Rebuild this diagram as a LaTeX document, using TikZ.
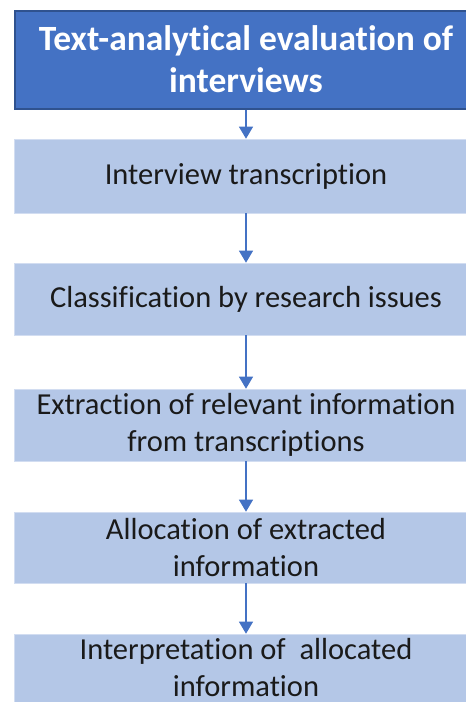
\documentclass[tikz,border=0pt]{standalone}
\usepackage{fontspec}
\setmainfont[Ligatures=NoCommon]{Carlito}
\usetikzlibrary{arrows.meta}
\definecolor{headblue}{HTML}{4472C4}
\definecolor{headedge}{HTML}{2F528F}
\definecolor{stepfill}{HTML}{B4C7E7}
\definecolor{steptext}{HTML}{1A1A1A}
\begin{document}
\begin{tikzpicture}[x=1pt,y=-1pt,
  headbox/.style={draw=headedge,line width=2pt,fill=headblue,text=white,
    font=\fontsize{35.5}{42}\selectfont\bfseries,align=center,
    minimum width=462pt,inner sep=0pt},
  stepbox/.style={fill=stepfill,draw=stepfill!60!white,line width=0.6pt,text=steptext,
    font=\fontsize{30.5}{37}\selectfont,align=center,
    minimum width=464pt,inner sep=0pt},
  flow/.style={draw=headblue,line width=1.3pt,
    -{Triangle[width=14pt,length=12pt]}}]
\useasboundingbox (0,0) rectangle (466,702);
\clip (0,0) rectangle (466,702);
\node[headbox,minimum height=98pt] (head) at (246,59.5) {Text-analytical evaluation of\\interviews};
\node[stepbox,minimum height=74pt] (s1) at (246,176) {Interview transcription};
\node[stepbox,minimum height=72pt] (s2) at (246,299) {Classification by research issues};
\node[stepbox,minimum height=72pt] (s3) at (246,425) {Extraction of relevant information\\from transcriptions};
\node[stepbox,minimum height=71pt] (s4) at (246,547.5) {Allocation of extracted\\information};
\node[stepbox,minimum height=68pt] (s5) at (246,668) {Interpretation of\ \ allocated\\information};
\draw[flow] (head.south) -- (s1.north);
\draw[flow] (s1.south) -- (s2.north);
\draw[flow] (s2.south) -- (s3.north);
\draw[flow] (s3.south) -- (s4.north);
\draw[flow] (s4.south) -- (s5.north);
\end{tikzpicture}
\end{document}
